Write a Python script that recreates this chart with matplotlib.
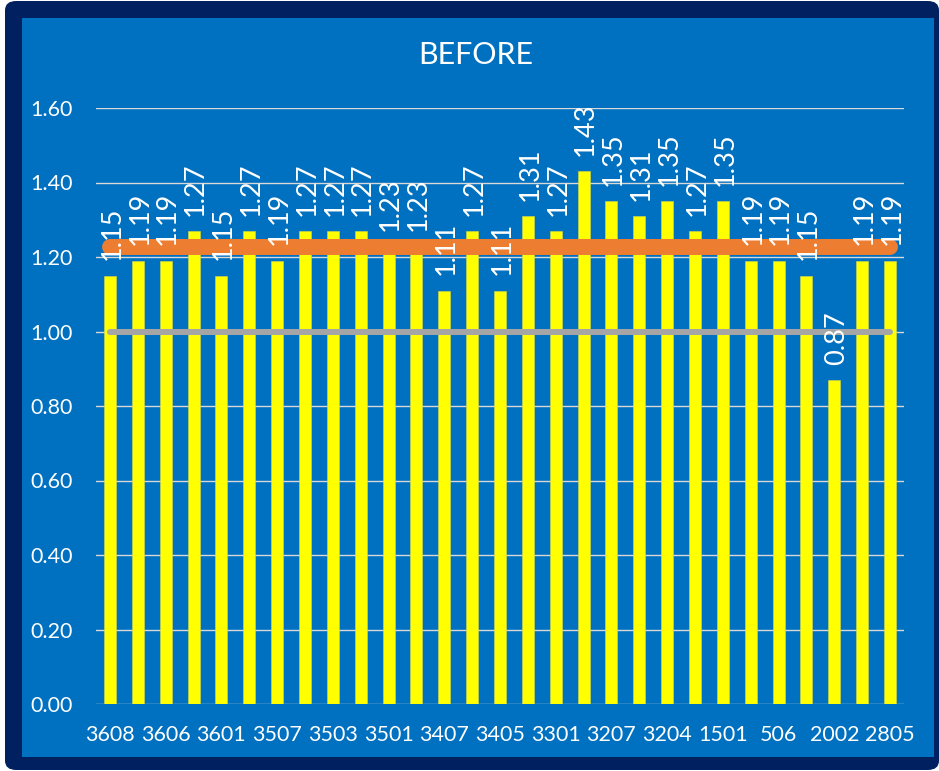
import matplotlib
matplotlib.use("Agg")
import matplotlib.pyplot as plt
from matplotlib.patches import FancyBboxPatch, Rectangle
import numpy as np

# ---- data ----
categories = ["3608", "", "3606", "", "3601", "", "3507", "", "3503", "", "3501", "",
              "3407", "", "3405", "", "3301", "", "3207", "", "3204", "", "1501", "",
              "506", "", "2002", "", "2805"]
values = [1.15, 1.19, 1.19, 1.27, 1.15, 1.27, 1.19, 1.27, 1.27, 1.27, 1.23, 1.23,
          1.11, 1.27, 1.11, 1.31, 1.27, 1.43, 1.35, 1.31, 1.35, 1.27, 1.35, 1.19,
          1.19, 1.15, 0.87, 1.19, 1.19]
average_value = 1.227
target_value = 1.00
y_ticks = [0.0, 0.2, 0.4, 0.6, 0.8, 1.0, 1.2, 1.4, 1.6]
title_text = "BEFORE"

# ---- style ----
W, H = 939, 771
plt.rcParams['font.family'] = ['Lato', 'DejaVu Sans']
fig = plt.figure(figsize=(W / 100, H / 100), dpi=100)
fig.patch.set_facecolor("white")

navy = "#002060"
blue = "#0070C0"
fig.patches.append(FancyBboxPatch((5 / W, 1 / H), 934 / W, 769 / H,
                                  boxstyle="round,pad=0,rounding_size=0.012",
                                  transform=fig.transFigure, facecolor=navy,
                                  edgecolor="none", zorder=-3))
fig.patches.append(Rectangle((22 / W, (H - 757) / H), (934 - 22) / W, (757 - 18) / H,
                             transform=fig.transFigure, facecolor=blue,
                             edgecolor="none", zorder=-2))

left, right = 96 / W, 904 / W
bottom, top = (H - 704) / H, (H - 108) / H
ax = fig.add_axes([left, bottom, right - left, top - bottom])
ax.set_facecolor("none")

x = np.arange(len(values))
ax.set_xlim(-0.5, len(values) - 0.5)
ax.set_ylim(0, 1.6)
ax.set_yticks(y_ticks)
ax.set_yticklabels([f"{v:.2f}" for v in y_ticks])
ax.set_xticks(x)
ax.set_xticklabels(categories)
ax.yaxis.grid(True, color="#D9D9D9", linewidth=1.0, zorder=0)
ax.set_axisbelow(True)
for s in ax.spines.values():
    s.set_visible(False)
ax.tick_params(axis="both", length=0, colors="white", labelsize=15.5)
ax.tick_params(axis="y", pad=17)
ax.tick_params(axis="x", pad=15)

ax.bar(x, values, width=0.43, color="#FFFF00", edgecolor="#D8D84A",
       linewidth=0.4, zorder=2)
ax.plot([x[0], x[-1]], [target_value, target_value], color="#A5A5A5",
        linewidth=4.3, solid_capstyle="round", zorder=3)
ax.plot([x[0], x[-1]], [average_value, average_value], color="#ED7D31",
        linewidth=11.5, solid_capstyle="round", zorder=4)

for xi, v in zip(x, values):
    ax.annotate(f"{v:.2f}", (xi, v), xytext=(1.5, 11), textcoords="offset points",
                rotation=90, ha="center", va="bottom", color="white",
                fontsize=19.5, zorder=5, annotation_clip=False)

fig.text(476 / W, 1 - 55 / H, title_text, ha="center", va="center",
         color="white", fontsize=22)

fig.savefig("out.png", dpi=100, facecolor=fig.get_facecolor())
